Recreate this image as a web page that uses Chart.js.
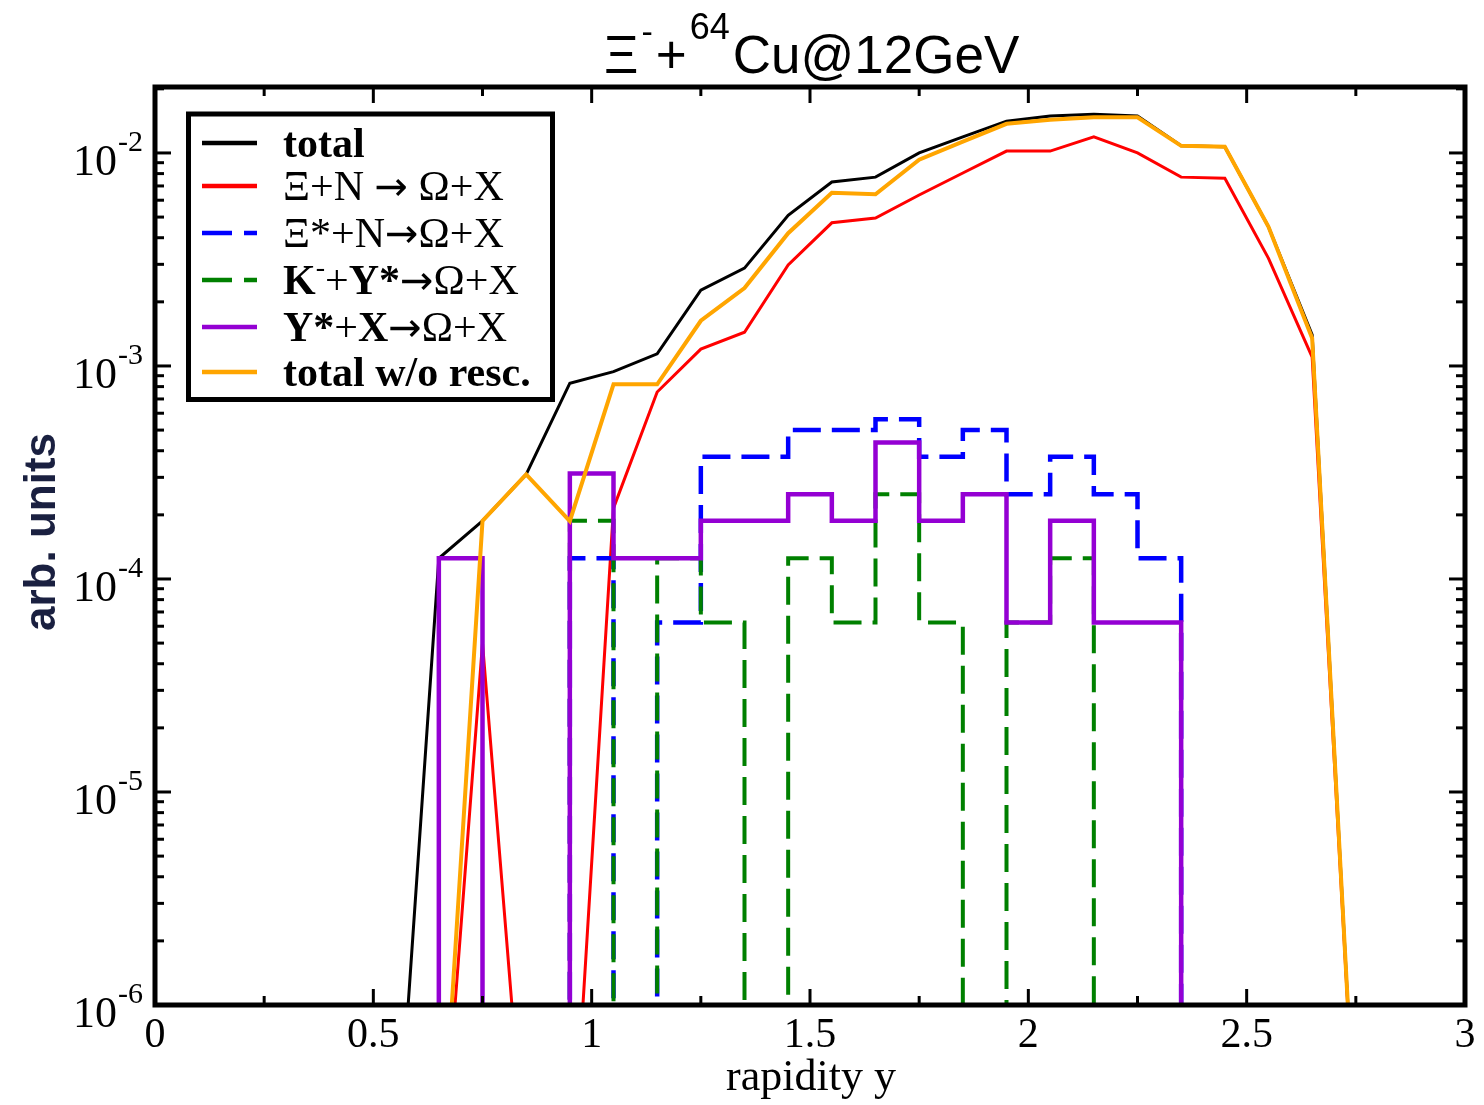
<!DOCTYPE html>
<html>
<head>
<meta charset="utf-8">
<script src="https://cdn.jsdelivr.net/npm/chart.js@4.4.1/dist/chart.umd.min.js"></script>
<style>
  body { margin: 0; background: #fff; }
  canvas { display: block; }
</style>
</head>
<body>
<canvas id="myChart" width="1484" height="1105"></canvas>
<script>
// rapidity bins: points of the totals, left edges of the histogram steps
var rapidity = [0.55, 0.65, 0.75, 0.85, 0.95, 1.05, 1.15, 1.25, 1.35, 1.45, 1.55, 1.65,
                1.75, 1.85, 1.95, 2.05, 2.15, 2.25, 2.35, 2.45, 2.55, 2.65, 2.75];

// total
var total = [1.3e-7, 1.25e-4, 1.875e-4, 3.1e-4, 8.3e-4, 9.4e-4, 1.14e-3, 2.27e-3, 2.88e-3, 5.1e-3,
             7.3e-3, 7.7e-3, 1.0e-2, 1.19e-2, 1.41e-2, 1.49e-2, 1.52e-2, 1.49e-2, 1.08e-2, 1.07e-2,
             4.5e-3, 1.4e-3, 2e-7];
// Xi + N -> Omega + X
var xiN = [null, 1e-7, 5e-5, 1.5e-7, 1e-7, 2.15e-4, 7.55e-4, 1.2e-3, 1.44e-3, 2.98e-3,
           4.7e-3, 4.95e-3, 6.35e-3, 8.05e-3, 1.02e-2, 1.02e-2, 1.19e-2, 1.0e-2, 7.7e-3, 7.6e-3,
           3.2e-3, 1.1e-3, 2e-7];
// Xi* + N -> Omega + X (histogram)
var xiStarN = [0, 0, 0, 0, 1.25e-4, 0, 6.25e-5, 3.75e-4, 3.75e-4, 5e-4, 5e-4, 5.625e-4,
               3.75e-4, 5e-4, 2.5e-4, 3.75e-4, 2.5e-4, 1.25e-4, 0, 0, 0, 0, 0];
// K- + Y* -> Omega + X (histogram)
var kY = [0, 0, 0, 0, 1.875e-4, 0, 1.25e-4, 6.25e-5, 0, 1.25e-4, 6.25e-5, 2.5e-4,
          6.25e-5, 0, 6.25e-5, 1.25e-4, 0, 0, 0, 0, 0, 0, 0];
// Y* + X -> Omega + X (histogram)
var yX = [0, 1.25e-4, 0, 0, 3.125e-4, 1.25e-4, 1.25e-4, 1.875e-4, 1.875e-4, 2.5e-4, 1.875e-4, 4.375e-4,
          1.875e-4, 2.5e-4, 6.25e-5, 1.875e-4, 6.25e-5, 6.25e-5, 0, 0, 0, 0, 0];
// total without rescattering
var noResc = [null, 1.1e-7, 1.875e-4, 3.1e-4, 1.87e-4, 8.2e-4, 8.2e-4, 1.63e-3, 2.32e-3, 4.2e-3,
              6.5e-3, 6.4e-3, 9.3e-3, 1.13e-2, 1.37e-2, 1.43e-2, 1.47e-2, 1.47e-2, 1.08e-2, 1.07e-2,
              4.5e-3, 1.35e-3, 2e-7];

// axis ticks
var xMajorTicks = [0.5, 1, 1.5, 2, 2.5];
var xMinorTicks = [0.25, 0.75, 1.25, 1.75, 2.25, 2.75];
var yMajorTicks = [1e-5, 1e-4, 1e-3, 1e-2];
var yTickLabels = [[1e-6, '-6'], [1e-5, '-5'], [1e-4, '-4'], [1e-3, '-3'], [1e-2, '-2']];

var SERIF = "'Liberation Serif', 'Times New Roman', 'DejaVu Serif', serif";
var SANS = "'Liberation Sans', Arial, 'DejaVu Sans', sans-serif";
var ARROW = "'DejaVu Sans', sans-serif";

// zero bins are pushed below the axis so the steps drop off the bottom
var FLOOR = 1e-9;
function pts(arr) {
  return rapidity.map(function (x, i) {
    var v = arr[i];
    return { x: x, y: v === 0 ? FLOOR : v };
  });
}

// legend rows: line style + text runs (b bold, r regular, s superscript, a arrow)
var legendRows = [
  { color: '#000000', dash: [], runs: [['total', 'b']] },
  { color: '#ff0000', dash: [], runs: [['\u039E+N ', 'r'], ['\u2192', 'a'], [' \u03A9+X', 'r']] },
  { color: '#0000ff', dash: [30, 12], runs: [['\u039E*+N', 'r'], ['\u2192', 'a'], ['\u03A9+X', 'r']] },
  { color: '#008000', dash: [30, 12], runs: [['K', 'b'], ['-', 's'], ['+', 'r'], ['Y*', 'b'], ['\u2192', 'a'], ['\u03A9+X', 'r']] },
  { color: '#9400d3', dash: [], runs: [['Y*', 'b'], ['+', 'r'], ['X', 'b'], ['\u2192', 'a'], ['\u03A9+X', 'r']] },
  { color: '#ffa500', dash: [], runs: [['total w/o resc.', 'b']] }
];

function seg(ctx, x1, y1, x2, y2) {
  ctx.beginPath();
  ctx.moveTo(x1, y1);
  ctx.lineTo(x2, y2);
  ctx.stroke();
}

var framePlugin = {
  id: 'frame',
  afterDatasetsDraw: function (chart) {
    var ctx = chart.ctx, a = chart.chartArea;
    var xs = chart.scales.x, ys = chart.scales.y;
    ctx.save();
    ctx.strokeStyle = '#000';
    ctx.fillStyle = '#000';
    ctx.lineWidth = 3;

    // x ticks, bottom and top, pointing inward
    xMajorTicks.forEach(function (v) {
      var p = xs.getPixelForValue(v);
      seg(ctx, p, a.bottom, p, a.bottom - 16);
      seg(ctx, p, a.top, p, a.top + 16);
    });
    xMinorTicks.forEach(function (v) {
      var p = xs.getPixelForValue(v);
      seg(ctx, p, a.bottom, p, a.bottom - 9);
      seg(ctx, p, a.top, p, a.top + 9);
    });
    // y ticks, left and right
    yMajorTicks.forEach(function (v) {
      var p = ys.getPixelForValue(v);
      seg(ctx, a.left, p, a.left + 16, p);
      seg(ctx, a.right, p, a.right - 16, p);
    });
    for (var d = -6; d <= -2; d++) {
      for (var m = 2; m <= 9; m++) {
        var v = m * Math.pow(10, d);
        if (v > ys.max) break;
        var p = ys.getPixelForValue(v);
        seg(ctx, a.left, p, a.left + 9, p);
        seg(ctx, a.right, p, a.right - 9, p);
      }
    }

    // frame
    ctx.lineWidth = 5;
    ctx.strokeRect(a.left, a.top, a.right - a.left, a.bottom - a.top);

    // y tick labels 10^-n
    yTickLabels.forEach(function (t) {
      var p = ys.getPixelForValue(t[0]);
      ctx.textAlign = 'right';
      ctx.font = '44px ' + SERIF;
      ctx.fillText('10', 117, p + 22);
      ctx.textAlign = 'left';
      ctx.font = '30px ' + SERIF;
      ctx.fillText(t[1], 118, p - 2);
    });

    // x axis title
    ctx.textAlign = 'center';
    ctx.font = '44px ' + SERIF;
    ctx.fillText('rapidity y', 811, 1090);

    // y axis title
    ctx.save();
    ctx.translate(55, 532);
    ctx.rotate(-Math.PI / 2);
    ctx.fillStyle = '#1a2040';
    ctx.font = 'bold 44px ' + SANS;
    ctx.fillText('arb. units', 0, 0);
    ctx.restore();

    // chart title
    ctx.textAlign = 'left';
    var runs = [['\u039E', 53, 0], ['-', 34, 30], ['+', 53, 0], ['64', 36, 34], ['Cu@12GeV', 53, 0]];
    var tx = 604;
    runs.forEach(function (r) {
      ctx.font = r[1] + 'px ' + SANS;
      ctx.fillText(r[0], tx, 73 - r[2]);
      tx += ctx.measureText(r[0]).width + 3;
    });

    // legend
    var lx = 188.5, ly = 114, lw = 364, lh = 285.5;
    ctx.fillStyle = '#fff';
    ctx.fillRect(lx, ly, lw, lh);
    ctx.lineWidth = 5;
    ctx.strokeStyle = '#000';
    ctx.strokeRect(lx, ly, lw, lh);
    var rowY = [143, 186, 233, 280, 327, 372];
    legendRows.forEach(function (row, i) {
      var y = rowY[i];
      ctx.strokeStyle = row.color;
      ctx.lineWidth = 4.5;
      ctx.setLineDash(row.dash);
      seg(ctx, 202, y, 257, y);
      ctx.setLineDash([]);
      ctx.fillStyle = '#000';
      var x = 283;
      row.runs.forEach(function (r) {
        var rise = 0;
        if (r[1] === 'b') ctx.font = 'bold 42px ' + SERIF;
        else if (r[1] === 's') { ctx.font = '28px ' + SERIF; rise = 18; }
        else if (r[1] === 'a') ctx.font = '40px ' + ARROW;
        else ctx.font = '42px ' + SERIF;
        ctx.fillText(r[0], x, y + 14 - rise);
        x += ctx.measureText(r[0]).width;
      });
    });
    ctx.restore();
  }
};

var ctx = document.getElementById('myChart').getContext('2d');
var chart = new Chart(ctx, {
  type: 'line',
  data: {
    datasets: [
      { label: 'total', data: pts(total), borderColor: '#000000', borderWidth: 3, order: 6 },
      { label: 'Xi+N', data: pts(xiN), borderColor: '#ff0000', borderWidth: 3, order: 5 },
      { label: 'Xi*+N', data: pts(xiStarN), borderColor: '#0000ff', borderWidth: 4.5,
        borderDash: [28, 11], stepped: 'before', order: 4 },
      { label: 'K-+Y*', data: pts(kY), borderColor: '#008000', borderWidth: 4,
        borderDash: [28, 11], stepped: 'before', order: 3 },
      { label: 'Y*+X', data: pts(yX), borderColor: '#9400d3', borderWidth: 4.5,
        stepped: 'before', order: 2 },
      { label: 'total w/o resc.', data: pts(noResc), borderColor: '#ffa500', borderWidth: 4, order: 1 }
    ]
  },
  options: {
    responsive: false,
    animation: false,
    layout: { padding: { top: 87, right: 19, left: 0, bottom: 0 } },
    elements: { point: { radius: 0 }, line: { tension: 0, fill: false } },
    plugins: { legend: { display: false }, tooltip: { enabled: false }, title: { display: false } },
    scales: {
      x: {
        type: 'linear', min: 0, max: 3,
        grid: { display: false, drawTicks: false },
        border: { display: false },
        ticks: { stepSize: 0.5, color: '#000', padding: 6, maxRotation: 0,
                 font: { family: SERIF, size: 42 },
                 callback: function (v) { return String(v); } },
        afterFit: function (scale) { scale.height = 100; }
      },
      y: {
        type: 'logarithmic', min: 1e-6, max: 0.0204,
        grid: { display: false, drawTicks: false },
        border: { display: false },
        ticks: { display: false },
        afterFit: function (scale) { scale.width = 155; }
      }
    }
  },
  plugins: [framePlugin]
});
</script>
</body>
</html>
